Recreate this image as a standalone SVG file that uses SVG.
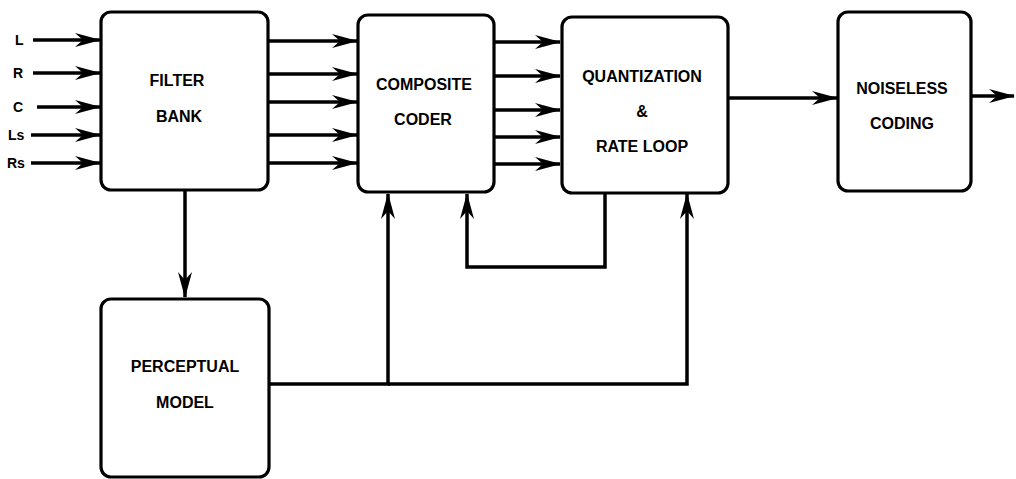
<svg xmlns="http://www.w3.org/2000/svg" width="1016" height="479" viewBox="0 0 1016 479">
<style>
.box{fill:#fff;stroke:#000;stroke-width:3.2}
.t{font-family:"Liberation Sans",Arial,sans-serif;font-weight:bold;font-size:16px;fill:#000;text-anchor:middle}
.lbl{font-family:"Liberation Sans",Arial,sans-serif;font-weight:bold;font-size:14px;fill:#000}
.c{fill:none;stroke:#000;stroke-width:3.5;marker-end:url(#ah)}
.l{fill:none;stroke:#000;stroke-width:3.5}
</style>
<defs>
<marker id="ah" markerUnits="userSpaceOnUse" viewBox="0 0 26 16" markerWidth="26" markerHeight="16" refX="25" refY="8" orient="auto">
<path d="M0,1 L26,8 L0,15 L8,8 z" fill="#000"/>
</marker>
</defs>
<rect width="1016" height="479" fill="#fff"/>
<g id="inputs">
<text class="lbl" x="15" y="45">L</text>
<text class="lbl" x="13" y="78">R</text>
<text class="lbl" x="13" y="112">C</text>
<text class="lbl" x="8" y="140">Ls</text>
<text class="lbl" x="7" y="168">Rs</text>
</g>
<g id="connectors">
<line class="c" x1="33" y1="40" x2="100" y2="40"/>
<line class="c" x1="33" y1="73" x2="100" y2="73"/>
<line class="c" x1="37" y1="107" x2="100" y2="107"/>
<line class="c" x1="31" y1="135" x2="100" y2="135"/>
<line class="c" x1="31" y1="163" x2="100" y2="163"/>
<line class="c" x1="268" y1="41" x2="357" y2="41"/>
<line class="c" x1="268" y1="74" x2="357" y2="74"/>
<line class="c" x1="268" y1="102" x2="357" y2="102"/>
<line class="c" x1="268" y1="135" x2="357" y2="135"/>
<line class="c" x1="268" y1="163" x2="357" y2="163"/>
<line class="c" x1="494" y1="42" x2="560" y2="42"/>
<line class="c" x1="494" y1="76" x2="560" y2="76"/>
<line class="c" x1="494" y1="110" x2="560" y2="110"/>
<line class="c" x1="494" y1="137" x2="560" y2="137"/>
<line class="c" x1="494" y1="164" x2="560" y2="164"/>
<line class="c" x1="728" y1="98" x2="837" y2="98"/>
<line class="c" x1="971" y1="96" x2="1014" y2="96"/>
<line class="c" x1="185" y1="190" x2="185" y2="297"/>
<polyline class="c" points="605,193 605,267 467,267 467,194"/>
<line class="l" x1="269" y1="384" x2="390" y2="384"/>
<line class="c" x1="388" y1="384" x2="388" y2="194"/>
<polyline class="c" points="388,384 687,384 687,194"/>
</g>
<g id="filter-bank">
<rect class="box" x="101" y="12" width="167" height="178" rx="10"/>
<text class="t" x="177" y="86">FILTER</text>
<text class="t" x="179" y="122">BANK</text>
</g>
<g id="composite-coder">
<rect class="box" x="358" y="15" width="136" height="177" rx="10"/>
<text class="t" x="424" y="90">COMPOSITE</text>
<text class="t" x="423" y="125">CODER</text>
</g>
<g id="quantization">
<rect class="box" x="562" y="17" width="166" height="176" rx="10"/>
<text class="t" x="642" y="82">QUANTIZATION</text>
<text class="t" x="642" y="117">&amp;</text>
<text class="t" x="642" y="152">RATE LOOP</text>
</g>
<g id="noiseless-coding">
<rect class="box" x="838" y="12" width="133" height="179" rx="10"/>
<text class="t" x="902" y="94">NOISELESS</text>
<text class="t" x="902" y="129">CODING</text>
</g>
<g id="perceptual-model">
<rect class="box" x="101" y="299" width="168" height="178" rx="10"/>
<text class="t" x="185" y="372">PERCEPTUAL</text>
<text class="t" x="185" y="408">MODEL</text>
</g>
</svg>
